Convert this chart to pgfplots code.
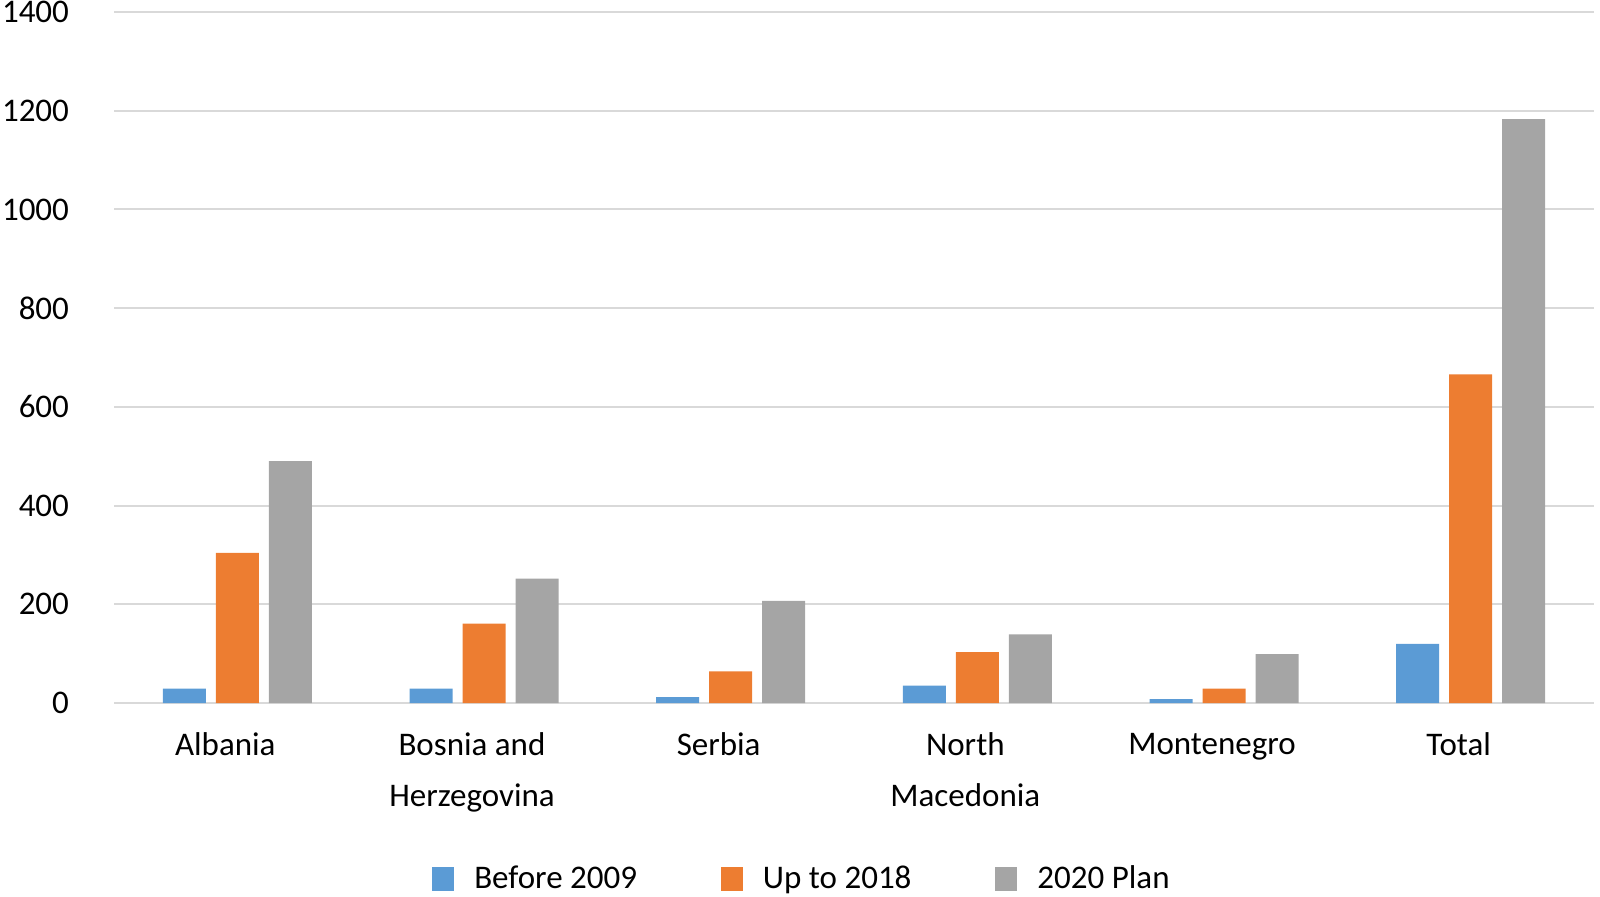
\documentclass[border=0pt]{standalone}
\usepackage{pgfplots}
\pgfplotsset{compat=1.18}
\usepackage{fontspec}
\setmainfont{Carlito}
\definecolor{cblue}{HTML}{5B9BD5}
\definecolor{corange}{HTML}{ED7D31}
\definecolor{cgray}{HTML}{A5A5A5}
\definecolor{cgrid}{HTML}{D9D9D9}
\begin{document}
\begin{tikzpicture}
\useasboundingbox (0,0) rectangle (800pt,448pt);
\begin{axis}[
  at={(57pt,96.5pt)}, anchor=south west,
  scale only axis, width=740pt, height=345.5pt,
  ybar=5pt, bar width=21.5pt,
  xmin=-0.5, xmax=5.5, ymin=0, ymax=1400,
  ytick={0,200,...,1400},
  xtick=data,
  xticklabels={Albania, {Bosnia and\\Herzegovina}, Serbia, {North\\Macedonia}, Montenegro, Total},
  axis line style={draw=none},
  ymajorgrids, major grid style={cgrid, line width=1pt},
  major tick length=0pt,
  /pgf/number format/assume math mode=true,
  /pgf/number format/1000 sep={},
  yticklabel style={font=\fontsize{16.5}{19}\selectfont, xshift=-19pt},
  xticklabel style={font=\fontsize{16.5}{25.5}\selectfont, align=center, yshift=-11.5pt, xshift=-6pt},
  tick label style={color=black},
  legend columns=3,
  legend style={draw=none, at={(0.4655,-0.2547)}, anchor=center,
    font=\fontsize{16.5}{19}\selectfont,
    /tikz/every odd column/.append style={column sep=8pt},
    /tikz/every even column/.append style={column sep=40pt}},
  legend image code/.code={\fill[#1] (0pt,-6pt) rectangle (11pt,6pt);},
]
\addplot[fill=cblue, draw=none] coordinates {(0,29) (1,29) (2,12) (3,35) (4,8) (5,120)};
\addplot[fill=corange, draw=none] coordinates {(0,304) (1,161) (2,64) (3,103) (4,29) (5,666)};
\addplot[fill=cgray, draw=none] coordinates {(0,490) (1,252) (2,207) (3,139) (4,99) (5,1183)};
\legend{Before 2009, Up to 2018, 2020 Plan}
\end{axis}
\end{tikzpicture}
\end{document}
